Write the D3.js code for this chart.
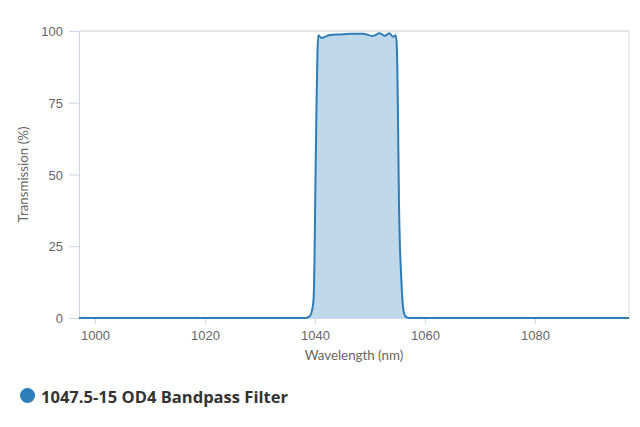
<!DOCTYPE html>
<html>
<head>
<meta charset="utf-8">
<script src="https://cdn.jsdelivr.net/npm/d3@7"></script>
<style>
  body { margin: 0; background: #fff; }
  svg { font-family: Lato, "Open Sans", sans-serif; }
  .tick text { fill: #666; font-size: 13px; }
  .axis-title { fill: #666; font-size: 13.3px; }
  .legend { fill: #333; font-family: "Open Sans", sans-serif; font-weight: 700; font-size: 15.5px; }
</style>
</head>
<body>
<svg width="640" height="427"></svg>
<script>
// wavelength (nm) and transmission (%)
const wavelength = [997.1, 1038.3, 1038.8, 1039.2, 1039.5, 1039.75, 1039.9, 1040.05, 1040.25, 1040.45, 1040.6,
  1041.2, 1042.7, 1044.5, 1046.4, 1048.7, 1050.5, 1051.8, 1052.7, 1053.5, 1054.2, 1054.7,
  1054.9, 1055.1, 1055.27, 1055.45, 1055.6, 1055.9, 1056.2, 1056.6, 1057.2, 1097.1]
const transmission = [0, 0, 0.3, 1, 3, 6.5, 18, 41, 70, 92, 98.5,
  97.6, 98.6, 98.8, 99.0, 99.0, 98.3, 99.2, 98.3, 99.2, 98.0, 98.5,
  94, 70, 41, 25, 18, 6.5, 1.7, 0.3, 0, 0]
const xTicks = [1000, 1020, 1040, 1060, 1080]
const yTicks = [0, 25, 50, 75, 100]
const seriesName = "1047.5-15 OD4 Bandpass Filter"

const data = wavelength.map((w, i) => ({w: w, t: transmission[i]}))

const svg = d3.select("svg")
const plotLeft = 79, plotRight = 629, plotTop = 31, plotBottom = 318

const x = d3.scaleLinear().domain([997.1, 1097.1]).range([plotLeft, plotRight])
const y = d3.scaleLinear().domain([0, 100]).range([plotBottom, plotTop])

// frame: top and right borders
svg.append("line")
  .attr("x1", plotLeft).attr("x2", plotRight)
  .attr("y1", plotTop).attr("y2", plotTop)
  .attr("stroke", "#ccc")
svg.append("line")
  .attr("x1", plotRight).attr("x2", plotRight)
  .attr("y1", plotTop).attr("y2", plotBottom)
  .attr("stroke", "#ddd")

const area = d3.area()
  .x(d => x(d.w))
  .y0(y(0))
  .y1(d => y(d.t))
  .curve(d3.curveMonotoneX)

const line = d3.line()
  .x(d => x(d.w))
  .y(d => y(d.t))
  .curve(d3.curveMonotoneX)

svg.append("path")
  .datum(data)
  .attr("d", area)
  .attr("fill", "rgba(44,125,185,0.3)")

// axes
const xAxis = svg.append("g")
  .attr("transform", `translate(0, ${plotBottom})`)
  .call(d3.axisBottom(x).tickValues(xTicks).tickFormat(d3.format("d"))
    .tickSizeInner(6).tickSizeOuter(0).tickPadding(7))
xAxis.select(".domain").attr("stroke", "#ccd6eb")
xAxis.selectAll(".tick line").attr("stroke", "#ccd6eb")

const yAxis = svg.append("g")
  .attr("transform", `translate(${plotLeft}, 0)`)
  .call(d3.axisLeft(y).tickValues(yTicks).tickSizeInner(10).tickSizeOuter(0).tickPadding(6))
yAxis.select(".domain").attr("stroke", "#ccd6eb")
yAxis.selectAll(".tick line").attr("stroke", "#ccd6eb")
yAxis.selectAll(".tick text").attr("dy", "0.36em")

svg.append("path")
  .datum(data)
  .attr("d", line)
  .attr("fill", "none")
  .attr("stroke", "#2c7db9")
  .attr("stroke-width", 2)

svg.append("text")
  .attr("class", "axis-title")
  .attr("x", (plotLeft + plotRight) / 2)
  .attr("y", 360)
  .attr("text-anchor", "middle")
  .text("Wavelength (nm)")

svg.append("text")
  .attr("class", "axis-title")
  .attr("transform", `translate(28, ${(plotTop + plotBottom) / 2}) rotate(-90)`)
  .attr("text-anchor", "middle")
  .text("Transmission (%)")

// legend
svg.append("circle")
  .attr("cx", 27.5)
  .attr("cy", 395.5)
  .attr("r", 7.5)
  .attr("fill", "#2c7db9")

svg.append("text")
  .attr("class", "legend")
  .attr("x", 41)
  .attr("y", 402.5)
  .attr("textLength", 247)
  .attr("lengthAdjust", "spacingAndGlyphs")
  .text(seriesName)
</script>
</body>
</html>
